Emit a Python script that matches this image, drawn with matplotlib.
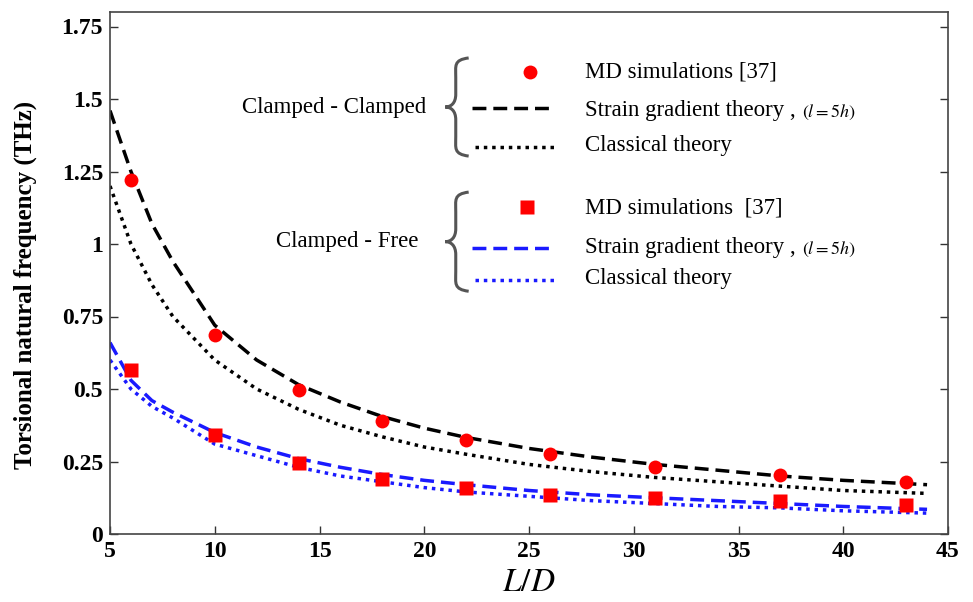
import matplotlib
matplotlib.use("Agg")
import matplotlib.pyplot as plt
from matplotlib.path import Path
from matplotlib.patches import PathPatch

# MD simulation points
md_x = [6, 10, 14, 18, 22, 26, 31, 37, 43]
md_cc = [1.22, 0.685, 0.495, 0.39, 0.325, 0.275, 0.23, 0.205, 0.18]
md_cf = [0.565, 0.34, 0.245, 0.19, 0.16, 0.135, 0.125, 0.115, 0.10]

# theory curves
th_x = [5, 6, 7, 8, 10, 12, 14, 16, 18, 20, 22, 25, 28, 31, 34, 37, 40, 44]
sgt_cc = [1.46, 1.25, 1.07, 0.94, 0.72, 0.60, 0.515, 0.455, 0.405, 0.365, 0.333,
          0.295, 0.265, 0.24, 0.22, 0.20, 0.185, 0.17]
cl_cc = [1.20, 1.00, 0.86, 0.75, 0.60, 0.50, 0.43, 0.375, 0.335, 0.30, 0.275,
         0.24, 0.215, 0.195, 0.18, 0.165, 0.15, 0.14]
sgt_cf = [0.66, 0.53, 0.46, 0.42, 0.35, 0.30, 0.26, 0.23, 0.205, 0.185, 0.17,
          0.15, 0.135, 0.125, 0.115, 0.105, 0.095, 0.085]
cl_cf = [0.60, 0.50, 0.44, 0.40, 0.31, 0.27, 0.23, 0.20, 0.18, 0.16, 0.145,
         0.13, 0.115, 0.105, 0.095, 0.09, 0.08, 0.072]

xticks = [5, 10, 15, 20, 25, 30, 35, 40, 45]
yticks = [0, 0.25, 0.5, 0.75, 1, 1.25, 1.5, 1.75]
ytick_labels = ['0', '0.25', '0.5', '0.75', '1', '1.25', '1.5', '1.75']

plt.rcParams['font.family'] = ['Liberation Serif', 'DejaVu Serif']
plt.rcParams['mathtext.fontset'] = 'stix'


def brace(ax, xl, yc, w, h, color='#555555', lw=2.2):
    # left-opening curly brace, coords in axes fraction
    xm = xl + 0.45 * w
    xr = xl + w
    yt, yb = yc + h / 2, yc - h / 2
    verts = [(xr, yt),
             (xm - 0.1 * w, yt - 0.02 * h), (xm, yt - 0.08 * h), (xm, yt - 0.2 * h),
             (xm, yc + 0.13 * h),
             (xm, yc + 0.04 * h), (xl + 0.25 * w, yc), (xl, yc),
             (xl + 0.25 * w, yc), (xm, yc - 0.04 * h), (xm, yc - 0.13 * h),
             (xm, yb + 0.2 * h),
             (xm, yb + 0.08 * h), (xm - 0.1 * w, yb + 0.02 * h), (xr, yb)]
    codes = [Path.MOVETO] + [Path.CURVE4] * 3 + [Path.LINETO] + [Path.CURVE4] * 6 \
        + [Path.LINETO] + [Path.CURVE4] * 3
    ax.add_patch(PathPatch(Path(verts, codes), fc='none', ec=color, lw=lw,
                           transform=ax.transAxes, clip_on=False))


fig = plt.figure(figsize=(9.73, 6.02), dpi=100)
ax = fig.add_axes([110 / 973, 1 - 534 / 602, 838 / 973, 522 / 602])

dash = (0, (4, 2))
dot = (0, (1, 1.4))
lw = 2.5
blue = '#1a1aff'
ax.plot(th_x, sgt_cc, color='black', ls=dash, lw=lw)
ax.plot(th_x, cl_cc, color='black', ls=dot, lw=lw)
ax.plot(th_x, sgt_cf, color=blue, ls=dash, lw=lw)
ax.plot(th_x, cl_cf, color=blue, ls=dot, lw=lw)
ax.plot(md_x, md_cc, 'o', color='red', ms=10, mec='none')
ax.plot(md_x, md_cf, 's', color='red', ms=9.5, mec='none')

ax.set_xlim(5, 45)
ax.set_ylim(0, 1.8)
ax.set_xticks(xticks)
ax.set_yticks(yticks)
ax.set_yticklabels(ytick_labels)
ax.tick_params(direction='in', length=6, top=False, right=True, width=1,
               labelsize=17, pad=5, colors='#333333', labelcolor='black')
for lab in ax.get_xticklabels() + ax.get_yticklabels():
    lab.set_fontweight('bold')
for s in ax.spines.values():
    s.set_color('#444444')
    s.set_linewidth(1.2)

ax.set_xlabel(r'$L/D$', fontsize=24, labelpad=4)
ax.set_ylabel('Torsional natural frequency (THz)', fontsize=18,
              fontweight='bold')
ax.yaxis.set_label_coords(-0.087, 0.477)

# hand-made legend
T = ax.transAxes
kw = dict(transform=T, clip_on=False)
fs = 16.5
ax.plot([0.501], [0.885], 'o', color='red', ms=10, mec='none', **kw)
ax.text(0.567, 0.885, 'MD simulations [37]', fontsize=fs, va='center', transform=T)
ax.plot([0.432, 0.528], [0.816, 0.816], color='black', ls=dash, lw=lw, **kw)
ax.text(0.567, 0.812, 'Strain gradient theory ,', fontsize=fs, va='center', transform=T)
ax.text(0.826, 0.808, r'$(l = 5h)$', fontsize=13, va='center', transform=T)
ax.plot([0.436, 0.531], [0.741, 0.741], color='black', ls=dot, lw=lw, **kw)
ax.text(0.567, 0.745, 'Classical theory', fontsize=fs, va='center', transform=T)
ax.text(0.377, 0.818, 'Clamped - Clamped', fontsize=fs, ha='right', va='center', transform=T)
brace(ax, 0.4, 0.818, 0.028, 0.188)

ax.plot([0.498], [0.626], 's', color='red', ms=9.5, mec='none', **kw)
ax.text(0.567, 0.625, 'MD simulations  [37]', fontsize=fs, va='center', transform=T)
ax.plot([0.432, 0.528], [0.548, 0.548], color=blue, ls=dash, lw=lw, **kw)
ax.text(0.567, 0.548, 'Strain gradient theory ,', fontsize=fs, va='center', transform=T)
ax.text(0.826, 0.545, r'$(l = 5h)$', fontsize=13, va='center', transform=T)
ax.plot([0.436, 0.531], [0.487, 0.487], color=blue, ls=dot, lw=lw, **kw)
ax.text(0.567, 0.49, 'Classical theory', fontsize=fs, va='center', transform=T)
ax.text(0.368, 0.56, 'Clamped - Free', fontsize=fs, ha='right', va='center', transform=T)
brace(ax, 0.4, 0.56, 0.028, 0.19)

fig.savefig('out.png', dpi=100)
